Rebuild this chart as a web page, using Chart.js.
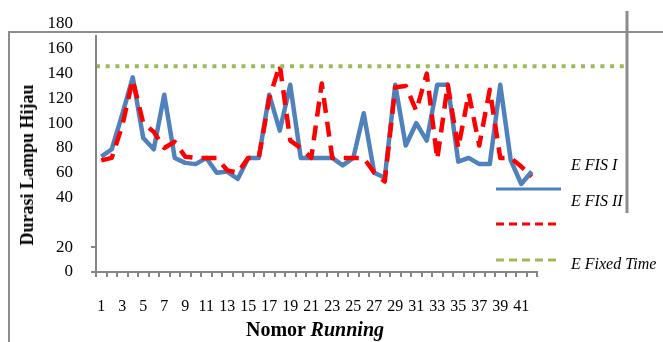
<!DOCTYPE html>
<html>
<head>
<meta charset="utf-8">
<script src="https://cdn.jsdelivr.net/npm/chart.js@4"></script>
<style>
  body { margin: 0; background: #fff; }
  #wrap { position: relative; width: 663px; height: 342px; font-family: "Liberation Serif", serif; color: #000; }
  #chart { position: absolute; left: 0; top: 0; }
  .txt { position: absolute; white-space: nowrap; }
  #ytitle { left: 27px; top: 165px; font-size: 18px; font-weight: bold; line-height: 18px; transform: translate(-50%, -50%) rotate(-90deg); }
  #xtitle { left: 315px; top: 319px; font-size: 20px; font-weight: bold; line-height: 20px; transform: translateX(-50%); }
  .leg { left: 571px; font-size: 16px; font-style: italic; line-height: 16px; }
</style>
</head>
<body>
<div id="wrap">
  <canvas id="chart" width="663" height="342"></canvas>
  <div class="txt" id="ytitle">Durasi Lampu Hijau</div>
  <div class="txt" id="xtitle">Nomor <i>Running</i></div>
  <div class="txt leg" style="top:157px">E FIS I</div>
  <div class="txt leg" style="top:193px">E FIS II</div>
  <div class="txt leg" style="top:256px">E Fixed Time</div>
</div>
<script>
const runs = [1, 2, 3, 4, 5, 6, 7, 8, 9, 10, 11, 12, 13, 14, 15, 16, 17, 18, 19, 20, 21,
              22, 23, 24, 25, 26, 27, 28, 29, 30, 31, 32, 33, 34, 35, 36, 37, 38, 39, 40, 41, 42];
const efisI = [73, 79, 107, 137, 88, 79, 123, 72, 68, 67,
               72, 60, 61, 55, 72, 72, 123, 94, 131, 72,
               72, 72, 72, 66, 72, 108, 60, 56, 131, 82,
               100, 86, 131, 131, 69, 72, 67, 67, 131, 70,
               51, 61];
const efisII = [70, 72, 98, 135, 100, 93, 80, 85, 73, 72,
                72, 72, 62, 60, 72, 72, 120, 147, 86, 80,
                72, 132, 72, 72, 72, 72, 60, 53, 129, 130,
                110, 140, 71, 131, 80, 124, 82, 127, 72, 72,
                65, 57];
const fixedTime = 146;
const fixedTimeRuns = [0.5, 51];

// the printed axis is broken below 40: "20" and "0" sit one step lower
const yTickValues = [-20, 0, 40, 60, 80, 100, 120, 140, 160, 180];
const yTickLabels = ["0", "20", "40", "60", "80", "100", "120", "140", "160", "180"];

const axisGray = "#868686";
const frameGray = "#8c8c8c";

const framePlugin = {
    id: "frame",
    afterDraw(chart) {
        const ctx = chart.ctx;
        const area = chart.chartArea;
        ctx.save();
        ctx.strokeStyle = frameGray;
        ctx.lineWidth = 2;
        ctx.beginPath();
        ctx.moveTo(9, 342);
        ctx.lineTo(9, 32);
        ctx.lineTo(663, 32);
        ctx.stroke();
        ctx.lineWidth = 3;
        ctx.beginPath();
        ctx.moveTo(627, 11);
        ctx.lineTo(627, 213);
        ctx.stroke();

        // value axis line starts below the frame
        ctx.strokeStyle = axisGray;
        ctx.lineWidth = 2;
        ctx.beginPath();
        ctx.moveTo(area.left, 35);
        ctx.lineTo(area.left, area.bottom);
        ctx.stroke();

        // legend samples, placed below their labels as in the original
        const rows = [189, 224, 260];
        chart.data.datasets.forEach((ds, i) => {
            ctx.strokeStyle = ds.borderColor;
            ctx.lineWidth = 3;
            ctx.setLineDash(ds.borderDash ? [8, 5] : []);
            ctx.beginPath();
            ctx.moveTo(496, rows[i]);
            ctx.lineTo(561, rows[i]);
            ctx.stroke();
        });
        ctx.restore();
    }
};

new Chart(document.getElementById("chart"), {
    type: "line",
    data: {
        labels: runs,
        datasets: [
            {
                label: "E FIS I",
                data: efisI,
                borderColor: "#4f81bd",
                borderWidth: 4.5,
                borderJoinStyle: "round",
                pointRadius: 0,
                tension: 0,
                order: 3
            },
            {
                label: "E FIS II",
                data: efisII,
                borderColor: "#ff0000",
                borderWidth: 4.5,
                borderDash: [15, 9],
                borderJoinStyle: "round",
                pointRadius: 0,
                tension: 0,
                order: 2
            },
            {
                label: "E Fixed Time",
                data: fixedTimeRuns.map(r => ({ x: r, y: fixedTime })),
                xAxisID: "x2",
                borderColor: "#9bbb59",
                borderWidth: 4,
                borderDash: [4, 5.7],
                borderCapStyle: "butt",
                pointRadius: 0,
                clip: false,
                order: 1
            }
        ]
    },
    options: {
        responsive: false,
        animation: false,
        layout: { padding: { left: 0, top: 24, right: 126, bottom: 0 } },
        plugins: { legend: { display: false }, tooltip: { enabled: false } },
        scales: {
            x: {
                type: "category",
                offset: true,
                grid: { offset: true, drawOnChartArea: false, tickLength: 5, color: axisGray, lineWidth: 2 },
                border: { display: true, color: axisGray, width: 2 },
                ticks: {
                    autoSkip: false,
                    maxRotation: 0,
                    padding: 20,
                    color: "#000",
                    font: { family: "Liberation Serif", size: 16 },
                    callback: (v, i) => (i % 2 === 0 ? String(runs[i]) : "")
                },
                afterFit: s => { s.height = 70; }
            },
            x2: { type: "linear", display: false, min: 0.5, max: 42.5 },
            y: {
                min: -20,
                max: 180,
                afterBuildTicks: s => { s.ticks = yTickValues.map(v => ({ value: v })); },
                grid: {
                    drawOnChartArea: false,
                    tickLength: 5,
                    lineWidth: 2,
                    color: c => (c.tick && c.tick.value <= 0 ? axisGray : "rgba(0,0,0,0)")
                },
                border: { display: false },
                ticks: {
                    padding: 18,
                    color: "#000",
                    // small lineHeight keeps the top label from pushing the plot down
                    font: { family: "Liberation Serif", size: 17, lineHeight: 0.6 },
                    callback: v => yTickLabels[yTickValues.indexOf(v)]
                },
                afterFit: s => { s.width = 96; }
            }
        }
    },
    plugins: [framePlugin]
});
</script>
</body>
</html>
